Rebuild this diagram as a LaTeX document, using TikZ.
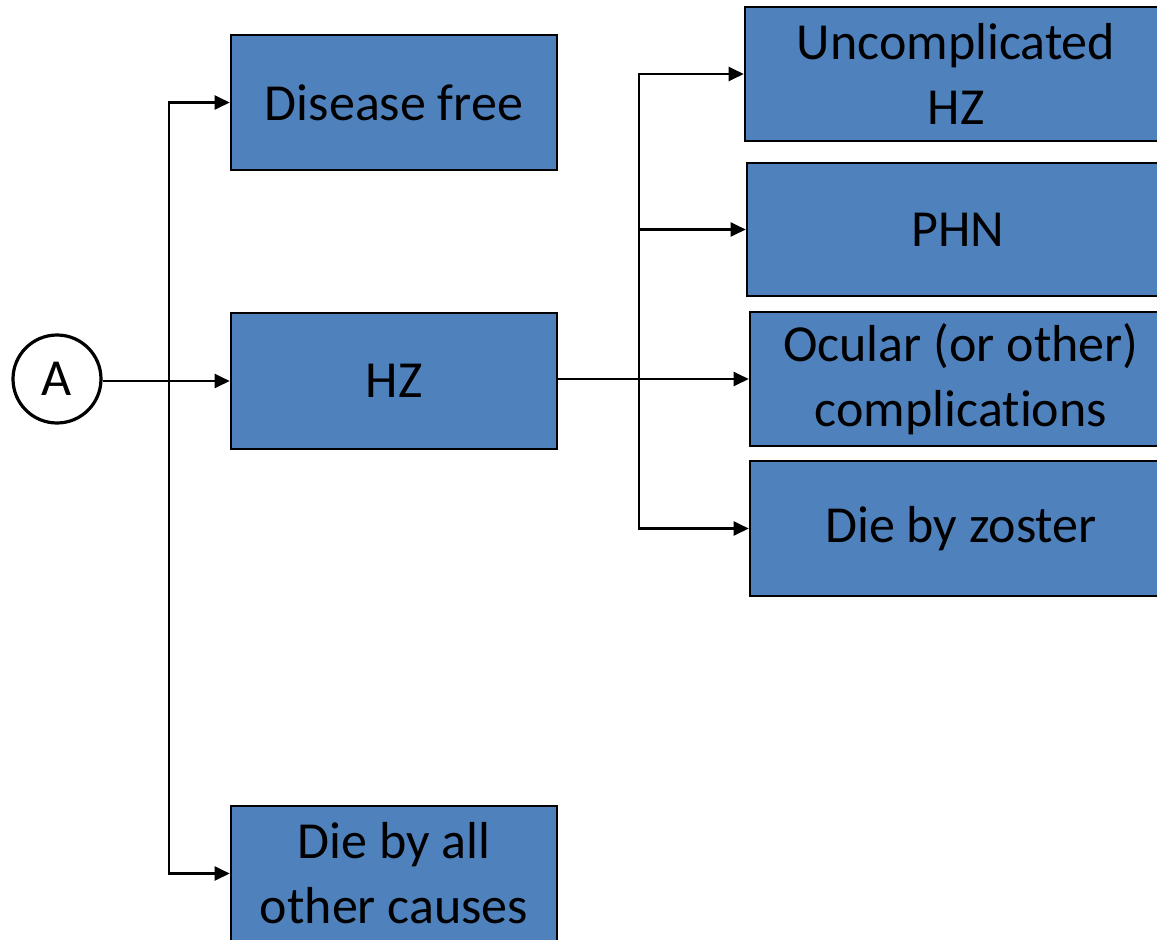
\documentclass[tikz,border=0pt]{standalone}
\usepackage{fontspec}
\setmainfont{Carlito}[Ligatures={NoCommon}]
\usetikzlibrary{arrows.meta}
\definecolor{boxblue}{RGB}{79,129,189}
\tikzset{
  bluebox/.style={draw=black, line width=2.6pt, fill=boxblue, inner sep=0pt,
    align=center, font=\fontsize{52}{65}\selectfont},
  arr/.style={line width=2.3pt, -{Triangle[length=15pt,width=14pt]}},
  plain/.style={line width=2.3pt}
}
\begin{document}
\begin{tikzpicture}[x=1pt,y=-1pt]
\useasboundingbox (0,0) rectangle (1157,940);
\clip (0,0) rectangle (1157,940);
\node[draw=black, line width=3.2pt, circle, minimum size=88pt, inner sep=0pt,
  font=\fontsize{52}{63}\selectfont] (A) at (57,379) {A};
\node[bluebox, minimum width=326pt, minimum height=135pt] (df) at (394,102.5) {Disease free};
\node[bluebox, minimum width=326pt, minimum height=136pt] (hz) at (394,381) {HZ};
\node[bluebox, minimum width=326pt, minimum height=135pt] (die) at (394,873.5) {Die by all\\other causes};
\node[bluebox, minimum width=422pt, minimum height=134pt] (unc) at (956,74) {Uncomplicated\\HZ};
\node[bluebox, minimum width=422pt, minimum height=133pt] (phn) at (958,229.5) {PHN};
\node[bluebox, minimum width=422pt, minimum height=134pt] (oc) at (961,379) {Ocular (or other)\\complications};
\node[bluebox, minimum width=422pt, minimum height=135pt] (dz) at (961,528.5) {Die by zoster};
\coordinate (j1) at (169,381);
\coordinate (j2) at (639,379);
\draw[arr] (A.east |- hz.west) -- (hz.west);
\draw[arr] (j1) |- (df.west);
\draw[arr] (j1) |- (die.west);
\draw[arr] (hz.east |- oc.west) -- (oc.west);
\draw[arr] (j2) |- (unc.west);
\draw[arr] (j2) |- (phn.west);
\draw[arr] (j2) |- (dz.west);
\end{tikzpicture}
\end{document}
